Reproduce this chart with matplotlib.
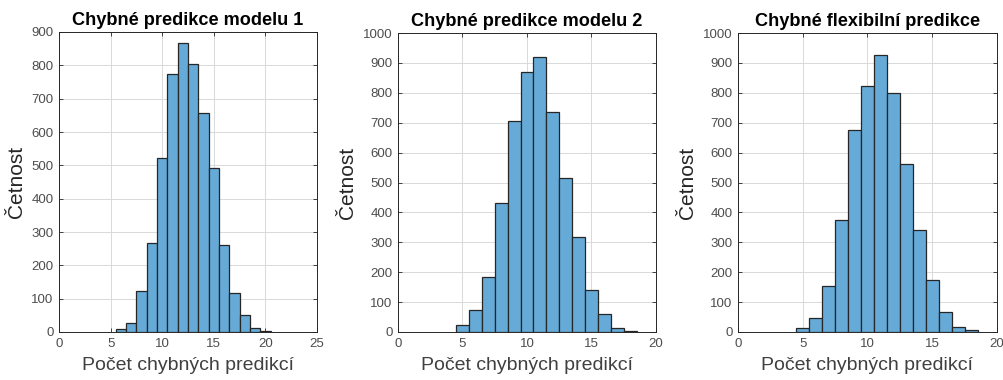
import numpy as np
import matplotlib
matplotlib.use('Agg')
import matplotlib.pyplot as plt

plt.rcParams['font.family'] = ['Liberation Sans', 'DejaVu Sans']

# hodnoty (stred binu -> cetnost)
centers1 = [6, 7, 8, 9, 10, 11, 12, 13, 14, 15, 16, 17, 18, 19, 20]
counts1 = [8, 28, 122, 268, 522, 773, 868, 805, 658, 493, 262, 118, 50, 12, 3]

centers2 = [5, 6, 7, 8, 9, 10, 11, 12, 13, 14, 15, 16, 17, 18]
counts2 = [25, 72, 185, 432, 707, 868, 920, 735, 515, 318, 140, 60, 15, 3]

centers3 = [5, 6, 7, 8, 9, 10, 11, 12, 13, 14, 15, 16, 17, 18]
counts3 = [12, 48, 155, 375, 677, 822, 927, 800, 562, 342, 173, 68, 18, 6]

titles = ['Chybné predikce modelu 1', 'Chybné predikce modelu 2',
          'Chybné flexibilní predikce']
xlims = [25, 20, 20]
ylims = [900, 1000, 1000]

W, H = 1004, 380
fig = plt.figure(figsize=(W / 100, H / 100), dpi=100)
# pozice os v pixelech (left, right, top, bottom)
boxes = [(59, 317, 32, 332), (398, 656, 33, 332), (738, 997, 33, 332)]

data = [(centers1, counts1), (centers2, counts2), (centers3, counts3)]
for i in range(3):
    l, r, t, b = boxes[i]
    ax = fig.add_axes([l / W, 1 - b / H, (r - l) / W, (b - t) / H])
    c, n = data[i]
    ax.bar(c, n, width=1.0, color=(0.4, 0.667, 0.845), edgecolor='#262626',
           linewidth=0.9, zorder=2)
    ax.set_xlim(0, xlims[i])
    ax.set_ylim(0, ylims[i])
    ax.set_xticks(np.arange(0, xlims[i] + 1, 5))
    ax.set_yticks(np.arange(0, ylims[i] + 1, 100))
    ax.grid(True, color='#d9d9d9', linewidth=0.7, zorder=0)
    ax.set_axisbelow(True)
    ax.tick_params(direction='in', length=3, labelsize=9.5, colors='#262626',
                   labelcolor='#4d4d4d', top=True, right=True, width=0.6,
                   pad=4)
    for s in ax.spines.values():
        s.set_color('#262626')
        s.set_linewidth(0.7)
    ax.set_title(titles[i], fontsize=13.1, fontweight='bold', pad=5)
    ax.set_xlabel('Počet chybných predikcí', fontsize=14, color='#404040',
                  labelpad=5)
    ax.set_ylabel('Četnost', fontsize=15, color='#262626', labelpad=4)

fig.savefig('out.png', dpi=100)
